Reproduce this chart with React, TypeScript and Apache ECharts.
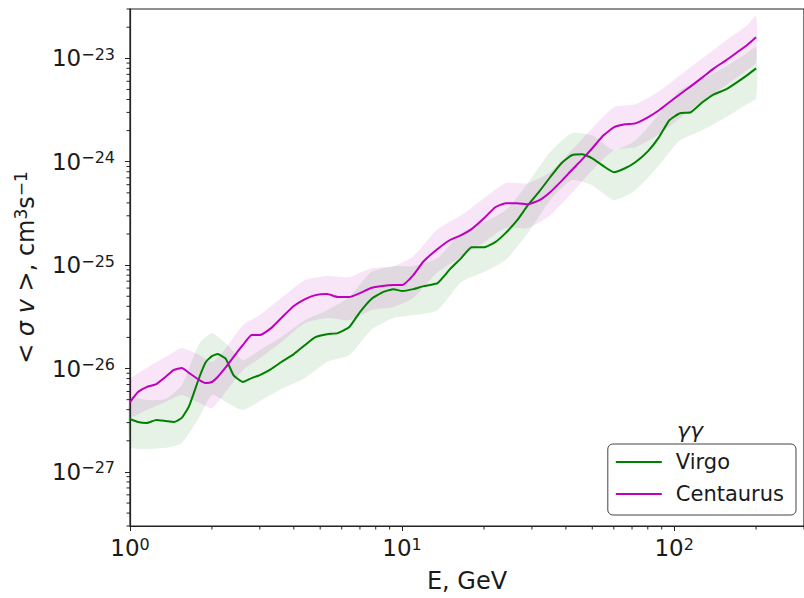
import React, { useEffect, useRef } from "react";
import * as echarts from "echarts";

// ---- data ----
const energy = [
  1.0, 1.07, 1.15, 1.25, 1.35, 1.45, 1.55, 1.65, 1.8, 1.9,
  2.0, 2.1, 2.25, 2.4, 2.6, 2.8, 3.0, 3.3, 3.6, 4.0,
  4.4, 4.8, 5.3, 5.8, 6.4, 7.0, 7.7, 8.5, 9.3, 10,
  11, 12, 13.5, 15, 16.5, 18, 20, 22, 24, 26.5,
  29, 32, 35, 38.5, 42, 46, 50, 55, 60, 66,
  72, 80, 88, 96, 105, 115, 127, 140, 155, 170,
  185, 200,
];

const virgo = [
  3.25e-27, 3.04e-27, 2.97e-27, 3.18e-27, 3.11e-27, 3.04e-27, 3.33e-27, 4.35e-27, 8.28e-27, 1.156e-26,
  1.32e-26, 1.38e-26, 1.24e-26, 8.65e-27, 7.41e-27, 8.09e-27, 8.65e-27, 9.89e-27, 1.156e-26, 1.38e-26,
  1.69e-26, 2.01e-26, 2.15e-26, 2.2e-26, 2.52e-26, 3.52e-26, 4.69e-26, 5.48e-26, 5.86e-26, 5.61e-26,
  5.86e-26, 6.27e-26, 6.7e-26, 9.14e-26, 1.17e-25, 1.49e-25, 1.49e-25, 1.67e-25, 2.04e-25, 2.72e-25,
  3.8e-25, 5.19e-25, 7.08e-25, 9.68e-25, 1.156e-24, 1.18e-24, 1.08e-24, 9.06e-25, 7.92e-25, 8.65e-25,
  9.89e-25, 1.26e-24, 1.73e-24, 2.52e-24, 2.94e-24, 3.01e-24, 3.76e-24, 4.49e-24, 5.01e-24, 5.86e-24,
  6.85e-24, 8.0e-24,
];

const centaurus = [
  4.74e-27, 5.93e-27, 6.62e-27, 7.08e-27, 8.28e-27, 9.68e-27, 1.01e-26, 9.06e-27, 7.74e-27, 7.24e-27,
  7.41e-27, 8.28e-27, 1.03e-26, 1.29e-26, 1.69e-26, 2.11e-26, 2.11e-26, 2.46e-26, 3.08e-26, 4.02e-26,
  4.69e-26, 5.13e-26, 5.25e-26, 4.91e-26, 4.91e-26, 5.36e-26, 6.0e-26, 6.27e-26, 6.41e-26, 6.41e-26,
  8.0e-26, 1.09e-25, 1.43e-25, 1.75e-25, 1.95e-25, 2.23e-25, 2.84e-25, 3.63e-25, 3.97e-25, 3.97e-25,
  3.88e-25, 4.25e-25, 5.07e-25, 6.49e-25, 8.28e-25, 1.06e-24, 1.35e-24, 1.8e-24, 2.15e-24, 2.3e-24,
  2.35e-24, 2.69e-24, 3.15e-24, 3.76e-24, 4.49e-24, 5.36e-24, 6.55e-24, 8.0e-24, 9.57e-24, 1.14e-23,
  1.34e-23, 1.6e-23,
];

const bandEnergy = [
  1.0, 1.15, 1.35, 1.55, 1.8, 2.0, 2.25, 2.6, 3.0, 3.6,
  4.4, 5.3, 6.4, 7.7, 9.3, 11, 13.5, 16.5, 20, 24,
  29, 35, 42, 50, 60, 72, 88, 105, 127, 155,
  185, 200,
];

const virgoUpper = [
  5.3e-27, 4.96e-27, 5.07e-27, 6.93e-27, 1.76e-26, 2.2e-26, 1.76e-26, 1.21e-26, 1.51e-26, 2.02e-26,
  2.94e-26, 3.67e-26, 4.91e-26, 8.56e-26, 9.78e-26, 9.78e-26, 1.17e-25, 2.04e-25, 2.6e-25, 3.4e-25,
  6.2e-25, 1.24e-24, 1.89e-24, 1.8e-24, 1.29e-24, 1.61e-24, 2.88e-24, 4.91e-24, 6.27e-24, 8.37e-24,
  1.12e-23, 1.28e-23,
];
const virgoLower = [
  1.74e-27, 1.67e-27, 1.71e-27, 1.91e-27, 3.4e-27, 5.55e-27, 4.75e-27, 3.97e-27, 4.85e-27, 6.34e-27,
  8.09e-27, 1.16e-26, 1.35e-26, 2.36e-26, 3.08e-26, 3.29e-26, 3.67e-26, 6.85e-26, 8.56e-26, 1.12e-25,
  2.04e-25, 4.25e-25, 6.63e-25, 5.93e-25, 4.25e-25, 5.3e-25, 9.25e-25, 1.61e-24, 2.02e-24, 2.69e-24,
  3.59e-24, 4.11e-24,
];
const centaurusUpper = [
  7.74e-27, 1.01e-26, 1.29e-26, 1.58e-26, 1.35e-26, 1.16e-26, 1.58e-26, 2.63e-26, 3.29e-26, 4.8e-26,
  7.17e-26, 7.83e-26, 7.66e-26, 9.35e-26, 9.78e-26, 1.22e-25, 2.23e-25, 3.04e-25, 4.44e-25, 6.2e-25,
  6.2e-25, 7.92e-25, 1.29e-24, 2.11e-24, 3.36e-24, 3.59e-24, 4.8e-24, 6.85e-24, 1.0e-23, 1.49e-23,
  2.08e-23, 2.55e-23,
];
const centaurusLower = [
  3.4e-27, 3.97e-27, 4.75e-27, 5.55e-27, 4.64e-27, 4.15e-27, 5.93e-27, 9.67e-27, 1.26e-26, 1.8e-26,
  2.75e-26, 3.08e-26, 2.94e-26, 3.67e-26, 3.93e-26, 4.8e-26, 8.56e-26, 1.19e-25, 1.67e-25, 2.28e-25,
  2.28e-25, 3.04e-25, 4.96e-25, 8.28e-25, 1.29e-24, 1.38e-24, 1.84e-24, 2.63e-24, 3.84e-24, 5.48e-24,
  7.66e-24, 9.15e-24,
];

const seriesNames = ["Virgo", "Centaurus"];
const legendTitle = "γγ";
const xTitle = "E, GeV";

const X_MIN = 1;
const X_MAX = 300;
const Y_MIN = 3e-28;
const Y_MAX = 3e-23;

const minorMultipliers = [2, 3, 4, 5, 6, 7, 8, 9];
const xDecades = [1, 10, 100];
const yDecades = [1e-28, 1e-27, 1e-26, 1e-25, 1e-24, 1e-23];

const FONT = "DejaVu Sans";
const INK = "#1a1a1a";
const GREEN = "#008000";
const MAGENTA = "#bf00bf";

function minorTicks(decades: number[], lo: number, hi: number): number[] {
  const out: number[] = [];
  decades.forEach((d) =>
    minorMultipliers.forEach((m) => {
      const v = d * m;
      if (v >= lo * 0.999 && v <= hi * 1.001) out.push(v);
    })
  );
  return out;
}

function powLabel(v: number): string {
  const e = Math.round(Math.log10(v));
  const s = e < 0 ? "\u2212" + String(-e) : String(e);
  return `{b|10}{s|${s}}`;
}

const tickRich = {
  b: { fontSize: 23, fontFamily: FONT, color: INK, lineHeight: 24, verticalAlign: "middle" },
  s: { fontSize: 16, fontFamily: FONT, color: INK, lineHeight: 12, verticalAlign: "top" },
};

export default function App() {
  const ref = useRef<HTMLDivElement>(null);

  useEffect(() => {
    if (!ref.current) return;
    const chart = echarts.init(ref.current, undefined, { renderer: "svg" });

    const xMinor = minorTicks(xDecades, X_MIN, X_MAX);
    const yMinor = minorTicks(yDecades, Y_MIN, Y_MAX);

    const bandSeries = (name: string, upper: number[], lower: number[], fill: string) => ({
      type: "custom",
      name: name + "-band",
      silent: true,
      z: 1,
      data: [[bandEnergy[0], upper[0]]],
      renderItem: (_params: any, api: any) => {
        const top = bandEnergy.map((e, i) => api.coord([e, upper[i]]));
        const bottom = bandEnergy.map((e, i) => api.coord([e, lower[i]])).reverse();
        return {
          type: "polygon",
          shape: { points: top.concat(bottom), smooth: 0.2 },
          style: { fill, stroke: "none" },
        };
      },
    });

    const option: any = {
      animation: false,
      backgroundColor: "#ffffff",
      grid: {
        left: 130,
        top: 9,
        right: -2,
        bottom: 72,
        show: true,
        borderColor: "#222",
        borderWidth: 1.2,
        backgroundColor: "transparent",
      },
      xAxis: {
        type: "log",
        logBase: 10,
        min: X_MIN,
        max: X_MAX,
        name: xTitle,
        nameLocation: "middle",
        nameGap: 43,
        nameTextStyle: { fontSize: 24, fontFamily: FONT, color: INK },
        axisLine: { show: true, lineStyle: { color: "#222", width: 1.2 } },
        axisTick: { show: true, length: 5, lineStyle: { color: "#222", width: 1 } },
        axisLabel: {
          margin: 10,
          formatter: powLabel,
          rich: tickRich,
          showMinLabel: true,
          showMaxLabel: false,
        },
        splitLine: { show: false },
      },
      yAxis: {
        type: "log",
        logBase: 10,
        min: Y_MIN,
        max: Y_MAX,
        name: "{n|< }{i|σ v}{n| >, cm}{s|3}{n|s}{s|\u22121}",
        nameLocation: "middle",
        nameRotate: 90,
        nameGap: 90,
        nameTextStyle: {
          rich: {
            n: { fontSize: 24, fontFamily: FONT, color: INK, lineHeight: 28, verticalAlign: "middle" },
            i: { fontSize: 24, fontFamily: FONT, fontStyle: "italic", color: INK, lineHeight: 28, verticalAlign: "middle" },
            s: { fontSize: 17, fontFamily: FONT, color: INK, lineHeight: 14, verticalAlign: "top" },
          },
        },
        axisLine: { show: true, lineStyle: { color: "#222", width: 1.2 } },
        axisTick: { show: true, length: 5, lineStyle: { color: "#222", width: 1 } },
        axisLabel: {
          margin: 15,
          formatter: powLabel,
          rich: tickRich,
          showMinLabel: false,
          showMaxLabel: false,
        },
        splitLine: { show: false },
      },
      legend: {
        data: seriesNames,
        orient: "vertical",
        right: 8,
        top: 444,
        icon: "rect",
        itemWidth: 46,
        itemHeight: 2,
        itemGap: 8,
        padding: [6, 12, 9, 8],
        backgroundColor: "#ffffff",
        borderColor: "#444",
        borderWidth: 1,
        borderRadius: 5,
        textStyle: { fontSize: 21, fontFamily: FONT, color: INK, lineHeight: 24, padding: [0, 0, 0, 9] },
      },
      graphic: [
        {
          type: "text",
          x: 690,
          y: 430,
          z: 100,
          style: {
            text: legendTitle,
            fontSize: 22,
            fontFamily: FONT,
            fontStyle: "italic",
            fill: INK,
            align: "center",
            verticalAlign: "middle",
          },
        },
      ],
      series: [
        bandSeries(seriesNames[0], virgoUpper, virgoLower, "rgba(0,128,0,0.1)"),
        bandSeries(seriesNames[1], centaurusUpper, centaurusLower, "rgba(191,0,191,0.1)"),
        {
          type: "line",
          name: seriesNames[0],
          z: 3,
          data: energy.map((e, i) => [e, virgo[i]]),
          symbol: "none",
          smooth: 0.15,
          lineStyle: { color: GREEN, width: 2 },
          itemStyle: { color: GREEN },
        },
        {
          type: "line",
          name: seriesNames[1],
          z: 3,
          data: energy.map((e, i) => [e, centaurus[i]]),
          symbol: "none",
          smooth: 0.15,
          lineStyle: { color: MAGENTA, width: 2 },
          itemStyle: { color: MAGENTA },
        },
        {
          type: "custom",
          name: "x-minor",
          silent: true,
          clip: false,
          z: 4,
          data: xMinor.map((v) => [v, 1e-26]),
          renderItem: (params: any, api: any) => {
            const p = api.coord([api.value(0), 1e-26]);
            const cs = params.coordSys;
            const yb = cs.y + cs.height;
            return {
              type: "line",
              shape: { x1: p[0], y1: yb, x2: p[0], y2: yb + 3.5 },
              style: { stroke: "#222", lineWidth: 1 },
            };
          },
        },
        {
          type: "custom",
          name: "y-minor",
          silent: true,
          clip: false,
          z: 4,
          data: yMinor.map((v) => [2, v]),
          renderItem: (params: any, api: any) => {
            const p = api.coord([2, api.value(1)]);
            const cs = params.coordSys;
            return {
              type: "line",
              shape: { x1: cs.x - 3.5, y1: p[1], x2: cs.x, y2: p[1] },
              style: { stroke: "#222", lineWidth: 1 },
            };
          },
        },
      ],
    };

    chart.setOption(option);
    return () => chart.dispose();
  }, []);

  return (
    <div
      ref={ref}
      style={{ position: "absolute", left: 0, top: 0, width: 804, height: 598, background: "#fff" }}
    />
  );
}
